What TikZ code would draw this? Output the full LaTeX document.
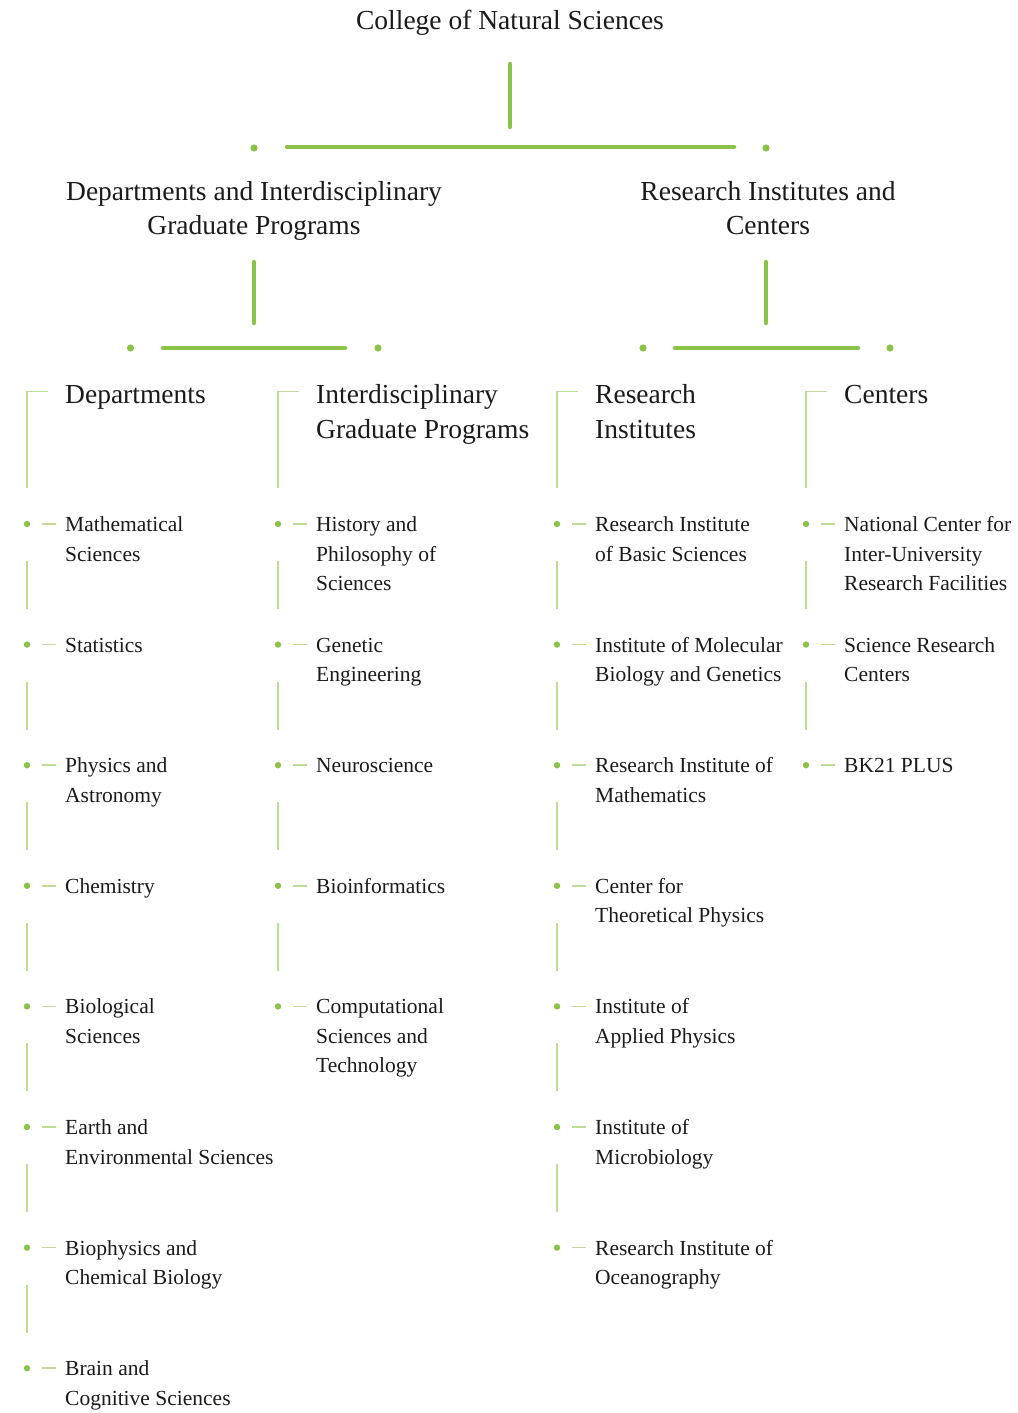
\documentclass[tikz,border=0pt]{standalone}
\usepackage{fontspec}
\setmainfont{Liberation Serif}
\definecolor{gthick}{HTML}{8BC34A}
\definecolor{gthin}{HTML}{BBDD96}
\definecolor{txt}{HTML}{1A1A1A}
\newcommand{\lefttop}[1]{\begin{tabular}[t]{@{}l@{}}#1\end{tabular}}
\newcommand{\centop}[1]{\begin{tabular}[t]{@{}c@{}}#1\end{tabular}}
\begin{document}
\begin{tikzpicture}[x=1pt,y=-1pt,
  bigline/.style={draw=gthick,line width=4.5pt,line cap=round},
  bigdot/.style={fill=gthick},
  thinline/.style={draw=gthin,line width=1.6pt},
  itemdot/.style={fill=gthick},
  itemtext/.style={anchor=base west,inner sep=0pt,text=txt,font=\fontsize{21.5}{29.5}\selectfont},
  headtext/.style={anchor=base west,inner sep=0pt,text=txt,font=\fontsize{27.5}{34.5}\selectfont},
  toptext/.style={anchor=base,inner sep=0pt,text=txt,font=\fontsize{27.5}{34.5}\selectfont}]
\useasboundingbox (0,0) rectangle (1017,1413);
% level 0
\node[toptext] (title) at (510,30) {College of Natural Sciences};
\coordinate (t0a) at (510,64);
\coordinate (t0b) at (510,127);
\draw[bigline] (t0a) -- (t0b);
\coordinate (h0a) at (287,147);
\coordinate (h0b) at (734,147);
\draw[bigline] (h0a) -- (h0b);
\fill[bigdot] (254,148) circle (3.6);
\fill[bigdot] (766,148) circle (3.6);
% level 1
\node[toptext] (dip) at (254,200) {\centop{Departments and Interdisciplinary\\Graduate Programs}};
\node[toptext] (ric) at (768,200) {\centop{Research Institutes and\\Centers}};
\coordinate (v1a) at (254,262);
\coordinate (v1b) at (254,323);
\draw[bigline] (v1a) -- (v1b);
\coordinate (v2a) at (766,262);
\coordinate (v2b) at (766,323);
\draw[bigline] (v2a) -- (v2b);
\coordinate (h1a) at (163,348);
\coordinate (h1b) at (345,348);
\draw[bigline] (h1a) -- (h1b);
\coordinate (h2a) at (675,348);
\coordinate (h2b) at (858,348);
\draw[bigline] (h2a) -- (h2b);
\fill[bigdot] (130.5,348) circle (3.6);
\fill[bigdot] (378,348) circle (3.6);
\fill[bigdot] (643,348) circle (3.6);
\fill[bigdot] (890,348) circle (3.6);
% level 2 headings with brackets
\foreach \cx/\name/\lab in {27/hd1/{Departments},278/hd2/{Interdisciplinary\\Graduate Programs},557/hd3/{Research\\Institutes},806/hd4/{Centers}}{
  \node[headtext] (\name) at (\cx+38,403.5) {\lefttop{\lab}};
  \coordinate (\name a) at (\cx+21,391.5);
  \coordinate (\name b) at (\cx,391.5);
  \coordinate (\name c) at (\cx,488);
  \draw[thinline] (\name a) -- (\name b) -- (\name c);
}
% items
\newcommand{\itemcol}[3]{%
  \foreach \lab [count=\i] in {#3}{
    \pgfmathsetmacro{\yy}{524+120.6*(\i-1)}
    \fill[itemdot] (#1,\yy) circle (3.2);
    \coordinate (#2d\i a) at (#1+15,\yy);
    \coordinate (#2d\i b) at (#1+29,\yy);
    \draw[thinline] (#2d\i a) -- (#2d\i b);
    \node[itemtext] (#2i\i) at (#1+38,\yy+7.5) {\lefttop{\lab}};
  }
}
\itemcol{27}{ca}{{Mathematical\\Sciences},{Statistics},{Physics and\\Astronomy},{Chemistry},{Biological\\Sciences},{Earth and\\Environmental Sciences},{Biophysics and\\Chemical Biology},{Brain and\\Cognitive Sciences}}
\itemcol{278}{cb}{{History and\\Philosophy of\\Sciences},{Genetic\\Engineering},{Neuroscience},{Bioinformatics},{Computational\\Sciences and\\Technology}}
\itemcol{557}{cc}{{Research Institute\\of Basic Sciences},{Institute of Molecular\\Biology and Genetics},{Research Institute of\\Mathematics},{Center for\\Theoretical Physics},{Institute of\\Applied Physics},{Institute of\\Microbiology},{Research Institute of\\Oceanography}}
\itemcol{806}{cd}{{National Center for\\Inter-University\\Research Facilities},{Science Research\\Centers},{BK21 PLUS}}
% vertical links between items
\foreach \cx/\n in {27/7,278/4,557/6,806/2}{
  \foreach \i in {1,...,\n}{
    \pgfmathsetmacro{\yy}{524+120.6*(\i-1)}
    \coordinate (lk\cx-\i a) at (\cx,\yy+37);
    \coordinate (lk\cx-\i b) at (\cx,\yy+85);
    \draw[thinline] (lk\cx-\i a) -- (lk\cx-\i b);
  }
}
\end{tikzpicture}
\end{document}
